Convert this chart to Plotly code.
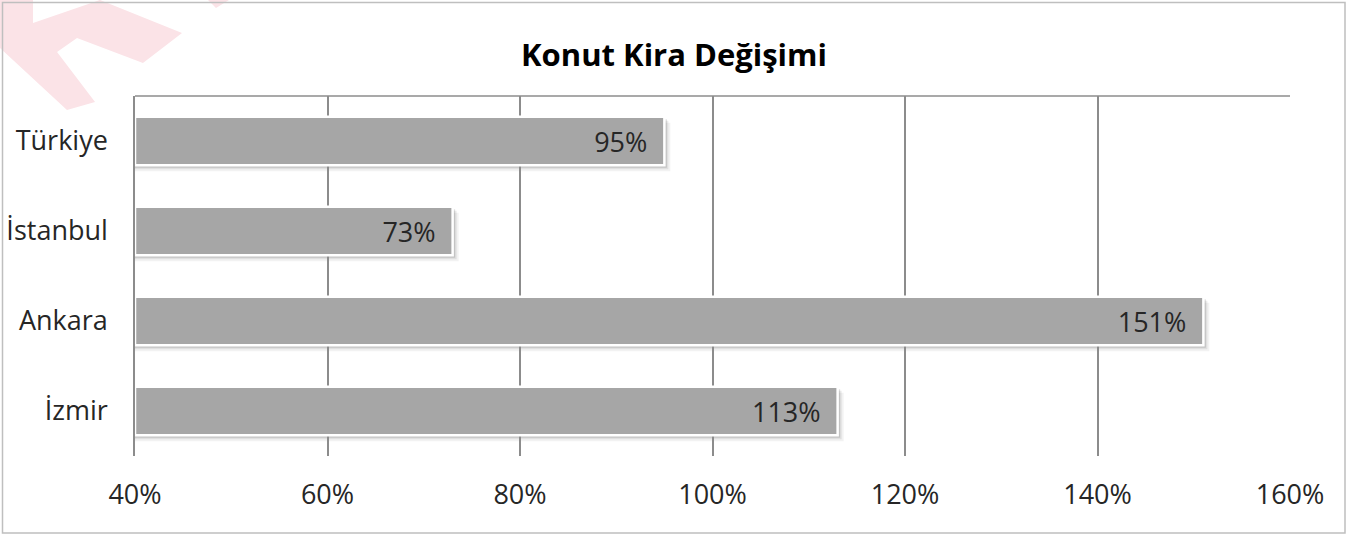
import plotly.graph_objects as go

categories = ["Türkiye", "İstanbul", "Ankara", "İzmir"]
values = [95, 73, 151, 113]
labels = ["95%", "73%", "151%", "113%"]
tick_vals = [40, 60, 80, 100, 120, 140, 160]
tick_text = ["40%", "60%", "80%", "100%", "120%", "140%", "160%"]
title_text = "Konut Kira Değişimi"

W, H = 1360, 536
ML, MR, MT, MB = 135, 70, 96, 80
PW, PH = W - ML - MR, H - MT - MB
FONT = "Open Sans"
BAR_W = 0.54


def px(xp, yp):
    """figure pixel -> paper coordinates"""
    return (xp - ML) / PW, (MT + PH - yp) / PH


fig = go.Figure()
fig.add_trace(go.Bar(
    y=categories, x=[v - 40 for v in values], base=40, orientation="h",
    width=BAR_W,
    marker=dict(color="#a6a6a6", line=dict(color="#ffffff", width=2.5)),
    text=[t + "\u00a0\u00a0" for t in labels], textposition="inside", insidetextanchor="end",
    textfont=dict(family=FONT, size=27, color="#262626"),
    hoverinfo="skip",
))

shapes = []
# decorative watermark (page corner)
wm = [(0, 0), (33, 0), (33, 23), (100, 0), (182, 33), (143, 63), (77, 38), (57, 52),
      (95, 102), (67, 110), (0, 48)]
path = "M " + " L ".join(f"{px(a, b)[0]:.4f},{px(a, b)[1]:.4f}" for a, b in wm) + " Z"
shapes.append(dict(type="path", xref="paper", yref="paper", path=path,
                   fillcolor="#fbe3e7", line=dict(width=0), layer="below"))
wm2 = [(208, 0), (229, 0), (216, 8)]
path2 = "M " + " L ".join(f"{px(a, b)[0]:.4f},{px(a, b)[1]:.4f}" for a, b in wm2) + " Z"
shapes.append(dict(type="path", xref="paper", yref="paper", path=path2,
                   fillcolor="#fbe3e7", line=dict(width=0), layer="below"))

# soft shadows derived from the data (drawn below the bars)
px_x = 120 / PW  # data units per pixel on x
for i, v in enumerate(values):
    for k, op in [(6, 0.05), (4, 0.08), (2.5, 0.12)]:
        shapes.append(dict(
            type="rect", xref="x", yref="y", layer="below",
            x0=40, x1=v + k * px_x,
            y0=i - BAR_W / 2 + k / 90, y1=i + BAR_W / 2 + k / 90,
            fillcolor=f"rgba(0,0,0,{op})", line=dict(width=0),
        ))
# top border of plot area
shapes.append(dict(type="line", xref="paper", yref="paper", x0=0, x1=1, y0=1, y1=1,
                   line=dict(color="#8c8c8c", width=1.5)))
# outer chart border
bx0, by0 = px(2.5, 533)
bx1, by1 = px(1345, 2.5)
shapes.append(dict(type="rect", xref="paper", yref="paper",
                   x0=bx0, x1=bx1, y0=by0, y1=by1,
                   line=dict(color="#bfbfbf", width=1.5), fillcolor="rgba(0,0,0,0)", layer="below"))

fig.update_layout(
    width=W, height=H,
    margin=dict(l=ML, r=MR, t=MT, b=MB),
    paper_bgcolor="white", plot_bgcolor="white",
    showlegend=False,
    shapes=shapes,
    title=dict(text=f"<b>{title_text}</b>", x=674 / W, xref="container",
               xanchor="center", y=1 - 55 / H, yref="container", yanchor="middle",
               font=dict(family=FONT, size=31, color="#000000")),
    xaxis=dict(range=[40, 160], tickvals=tick_vals, ticktext=tick_text,
               showgrid=True, gridcolor="#8c8c8c", gridwidth=1.5, automargin=False,
               zeroline=False, showline=False, ticks="",
               tickfont=dict(family=FONT, size=27, color="#262626"), ticklabelstandoff=20),
    yaxis=dict(categoryorder="array", categoryarray=categories, autorange="reversed",
               showgrid=False, showline=True, linecolor="#8c8c8c", linewidth=1.5, automargin=False,
               ticks="", tickfont=dict(family=FONT, size=27, color="#262626"), ticklabelstandoff=20),
)

fig.write_html("out.html", config={"displayModeBar": False},
               post_script="document.body.style.margin='0px';")
